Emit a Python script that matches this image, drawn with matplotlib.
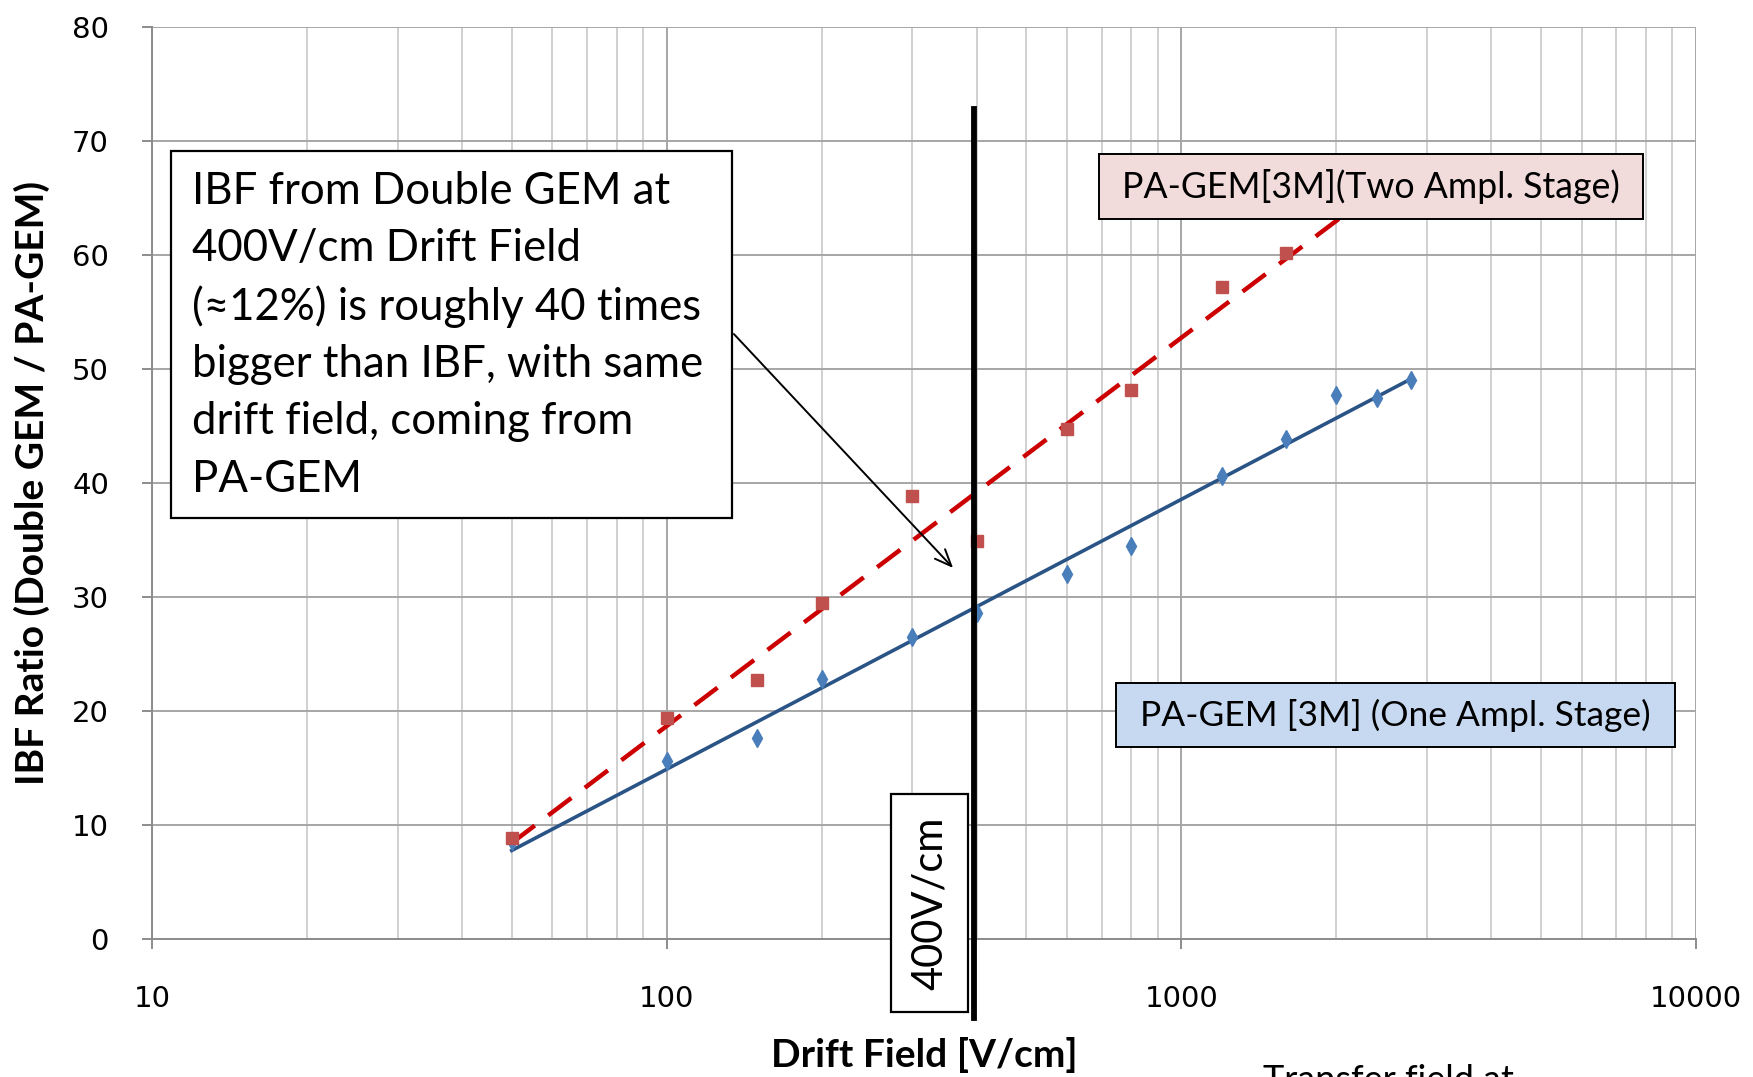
import numpy as np
import matplotlib
matplotlib.use("Agg")
import matplotlib.pyplot as plt
from matplotlib.patches import Rectangle, FancyArrowPatch
from matplotlib.ticker import LogLocator, NullFormatter, FixedLocator, FixedFormatter

# ---- data ----
red_x = [50, 100, 150, 200, 300, 400, 600, 800, 1200, 1600]
red_y = [8.9, 19.4, 22.7, 29.5, 38.9, 34.9, 44.7, 48.2, 57.2, 60.2]
blue_x = [50, 100, 150, 200, 300, 400, 600, 800, 1200, 1600, 2000, 2400, 2800]
blue_y = [8.6, 15.6, 17.6, 22.8, 26.5, 28.6, 32.0, 34.5, 40.6, 43.9, 47.7, 47.5, 49.0]
trend_range = [50, 2800]
x_ticks = [10, 100, 1000, 10000]
x_tick_labels = ["10", "100", "1000", "10000"]
y_ticks = [0, 10, 20, 30, 40, 50, 60, 70, 80]
marker_field = 396
red_label = "PA-GEM[3M](Two Ampl. Stage)"
blue_label = "PA-GEM [3M] (One Ampl. Stage)"
note_lines = ["IBF from Double GEM at", "400V/cm Drift Field",
              "(\u224812%) is roughly 40 times", "bigger than IBF, with same",
              "drift field, coming from", "PA-GEM"]

W, H = 1753, 1077
fig = plt.figure(figsize=(W / 100, H / 100), dpi=100)
fx = lambda px: px / W
fy = lambda py: 1 - py / H

ax = fig.add_axes([fx(152), fy(939), fx(1696) - fx(152), fy(27) - fy(939)])
ax.set_xscale("log")
ax.set_xlim(10, 10000)
ax.set_ylim(0, 80)

body = ["Lato", "DejaVu Sans"]

# grid
ax.grid(True, which="major", color="#a6a6a6", lw=1.4, zorder=0)
ax.grid(True, which="minor", axis="x", color="#c4c4c4", lw=1.1, zorder=0)
ax.xaxis.set_minor_locator(LogLocator(base=10, subs=np.arange(2, 10)))
ax.xaxis.set_minor_formatter(NullFormatter())
ax.set_axisbelow(True)
for s in ["top", "right"]:
    ax.spines[s].set_visible(False)
for s in ["left", "bottom"]:
    ax.spines[s].set_color("#8c8c8c")
    ax.spines[s].set_linewidth(1.4)

ax.xaxis.set_major_locator(FixedLocator(x_ticks))
ax.xaxis.set_major_formatter(FixedFormatter(x_tick_labels))
ax.set_yticks(y_ticks)
ax.tick_params(axis="both", which="major", direction="out", length=7, width=1.4,
               color="#8c8c8c", labelsize=21)
ax.tick_params(axis="x", which="minor", length=0)
ax.tick_params(axis="x", pad=26)
ax.tick_params(axis="y", pad=24)

# trend lines (log fits of the series)
lx = np.log10(trend_range)
pr = np.polyfit(np.log10(red_x), red_y, 1)
pb = np.polyfit(np.log10(blue_x), blue_y, 1)
ax.plot(trend_range, np.polyval(pb, lx), color="#2a5486", lw=2.6, zorder=3)
ax.plot(trend_range, np.polyval(pr, lx), color="#cc0000", lw=3.2,
        linestyle=(0, (6.5, 3.8)), zorder=3)

ax.plot(blue_x, blue_y, linestyle="none", marker="d", ms=9, color="#4a7ebb",
        mec="#4a7ebb", zorder=4)
ax.plot(red_x, red_y, linestyle="none", marker="s", ms=8, color="#c0504d",
        mec="#c0504d", zorder=4)

# vertical line at 400 V/cm
ax.plot([marker_field, marker_field], [72.8, -6.9], color="black", lw=4.2,
        clip_on=False, zorder=6)

ax.set_ylabel("IBF Ratio (Double GEM / PA-GEM)", fontsize=28, fontweight="bold",
              family=body)
ax.yaxis.set_label_coords(-0.066, 0.5)
ax.set_xlabel("Drift Field [V/cm]", fontsize=28, fontweight="bold", family=body)
ax.xaxis.set_label_coords(0.5, -0.1075)

# annotation box
fig.add_artist(Rectangle((fx(171), fy(518)), fx(732) - fx(171), fy(151) - fy(518),
                         transform=fig.transFigure, facecolor="white",
                         edgecolor="black", lw=1.6, zorder=5))
for i, line in enumerate(note_lines):
    fig.text(fx(192), fy(191 + i * 57.7), line, fontsize=31.5, family=body,
             va="center", ha="left", zorder=6)

fig.add_artist(FancyArrowPatch((fx(732), fy(332)), (fx(955), fy(570)),
                               transform=fig.transFigure,
                               arrowstyle="->,head_length=12,head_width=5",
                               color="black", lw=1.4, mutation_scale=1, zorder=6))

# legend-like label boxes
fig.add_artist(Rectangle((fx(1099), fy(219)), fx(1643) - fx(1099), fy(154) - fy(219),
                         transform=fig.transFigure, facecolor="#f2dcdb",
                         edgecolor="black", lw=1.4, zorder=5))
fig.text(fx(1371), fy(187), red_label, fontsize=25.7, family=body,
         ha="center", va="center", zorder=6)
fig.add_artist(Rectangle((fx(1116), fy(747)), fx(1675) - fx(1116), fy(683) - fy(747),
                         transform=fig.transFigure, facecolor="#c6d9f1",
                         edgecolor="black", lw=1.4, zorder=5))
fig.text(fx(1395), fy(715), blue_label, fontsize=25.5, family=body,
         ha="center", va="center", zorder=6)

# 400V/cm box
fig.add_artist(Rectangle((fx(891), fy(1012)), fx(968) - fx(891), fy(794) - fy(1012),
                         transform=fig.transFigure, facecolor="white",
                         edgecolor="black", lw=1.6, zorder=5))
fig.text(fx(930), fy(903), "400V/cm", fontsize=30, family=body, rotation=90,
         ha="center", va="center", zorder=6)

# cut-off text at the bottom
fig.text(fx(1263), fy(1064), "Transfer field at", fontsize=26, family=body,
         ha="left", va="top")

fig.savefig("out.png", dpi=100)
